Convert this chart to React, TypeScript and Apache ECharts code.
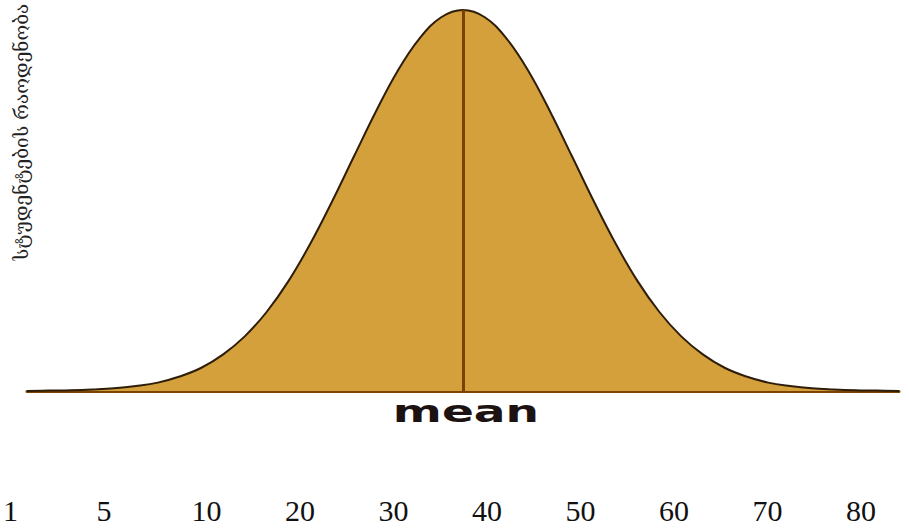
import React, { useEffect, useRef } from "react";
import * as echarts from "echarts";

// Tick labels shown under the chart (evenly spaced categories)
const xTickLabels = ["1", "5", "10", "20", "30", "40", "50", "60", "70", "80"];

// Curve sample positions (hidden horizontal scale 0..100) and heights (% of peak)
const curveX = [
  0, 2.5, 5, 7.5, 10, 12.5, 15, 17.5, 20, 22.5, 25, 27.5, 30, 32.5, 35, 37.5, 40, 42.5, 45, 47.5,
  50, 52.5, 55, 57.5, 60, 62.5, 65, 67.5, 70, 72.5, 75, 77.5, 80, 82.5, 85, 87.5, 90, 92.5, 95, 97.5, 100,
];
const curveY = [
  0, 0.1, 0.2, 0.4, 0.7, 1.3, 2.2, 3.8, 6.1, 9.6, 14.4, 20.8, 28.9, 38.7, 49.8, 61.6, 73.3, 84.0, 92.5, 98.1,
  100, 98.1, 92.5, 84.0, 73.3, 61.6, 49.8, 38.7, 28.9, 20.8, 14.4, 9.6, 6.1, 3.8, 2.2, 1.3, 0.7, 0.4, 0.2, 0.1, 0,
];
const meanX = 50;
const meanLabel = "mean";
const yTitle = "სტუდენტების რაოდენობა";

export default function App() {
  const ref = useRef<HTMLDivElement>(null);

  useEffect(() => {
    if (!ref.current) return;
    const chart = echarts.init(ref.current, undefined, { renderer: "svg" });

    const labelFont = {
      fontFamily: "Liberation Serif, serif",
      fontSize: 30,
      lineHeight: 30,
      color: "#111111",
    };

    chart.setOption({
      animation: false,
      backgroundColor: "#ffffff",
      grid: [
        { left: 12, right: 48, top: 10, bottom: 38 },
        { left: 27, width: 872, top: 10, bottom: 138 },
      ],
      xAxis: [
        {
          type: "category",
          gridIndex: 0,
          data: xTickLabels,
          boundaryGap: false,
          axisLine: { show: false },
          axisTick: { show: false },
          splitLine: { show: false },
          axisLabel: {
            interval: 0,
            margin: 4,
            ...labelFont,
            formatter: (value: string, index: number) =>
              index < 2 ? `{n|${value}}{s| }` : `{n|${value}}`,
            rich: {
              n: { ...labelFont },
              s: { width: 18, height: 30, fontSize: 30 },
            },
          },
        },
        {
          type: "value",
          gridIndex: 1,
          min: 0,
          max: 100,
          axisLine: { show: true, onZero: false, lineStyle: { color: "#7a4300", width: 3 } },
          axisTick: { show: false },
          axisLabel: { show: false },
          splitLine: { show: false },
        },
      ],
      yAxis: [
        { type: "value", gridIndex: 0, show: false },
        { type: "value", gridIndex: 1, min: 0, max: 100, show: false },
      ],
      series: [
        {
          type: "line",
          xAxisIndex: 1,
          yAxisIndex: 1,
          data: curveX.map((x, i) => [x, curveY[i]]),
          smooth: 0.4,
          showSymbol: false,
          lineStyle: { color: "#2e1d08", width: 2 },
          areaStyle: { color: "#d4a03c", opacity: 1 },
          markLine: {
            silent: true,
            symbol: ["none", "none"],
            label: { show: false },
            lineStyle: { color: "#7a4100", width: 3, type: "solid" },
            data: [{ xAxis: meanX }],
          },
        },
      ],
      graphic: [
        {
          type: "text",
          x: 466,
          y: 411,
          scaleX: 1.57,
          style: {
            text: meanLabel,
            fontFamily: "DejaVu Sans, sans-serif",
            fontWeight: 900,
            fontSize: 30,
            fill: "#1c1212",
            textAlign: "center",
            textVerticalAlign: "middle",
          },
        },
        {
          type: "text",
          x: 21,
          y: 132,
          rotation: Math.PI / 2,
          style: {
            text: yTitle,
            fontFamily: "DejaVu Serif, DejaVu Sans, serif",
            fontSize: 19,
            fill: "#222222",
            textAlign: "center",
            textVerticalAlign: "middle",
          },
        },
      ],
    });

    return () => chart.dispose();
  }, []);

  return (
    <div
      ref={ref}
      style={{ position: "fixed", left: 0, top: 0, width: 909, height: 529 }}
    />
  );
}
